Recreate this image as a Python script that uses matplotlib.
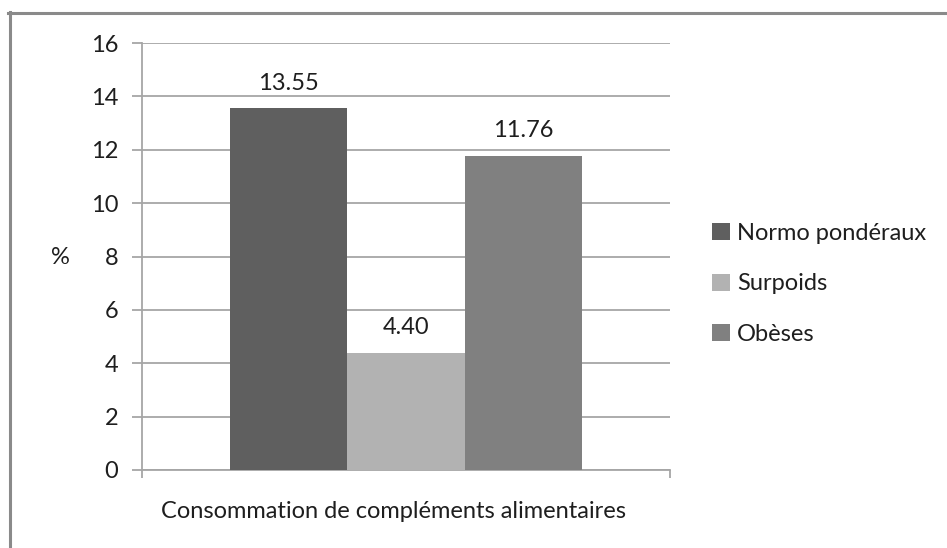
import matplotlib
matplotlib.use("Agg")
import matplotlib.pyplot as plt
from matplotlib.lines import Line2D
import numpy as np

plt.rcParams['font.family'] = ['Lato', 'DejaVu Sans']

# Data
category = "Consommation de compléments alimentaires"
groups = ["Normo pondéraux", "Surpoids", "Obèses"]
values = [13.55, 4.40, 11.76]
colors = ["#5f5f5f", "#b2b2b2", "#808080"]
yticks = [0, 2, 4, 6, 8, 10, 12, 14, 16]

W, H = 947, 548
fig = plt.figure(figsize=(W / 100, H / 100), dpi=100)
fig.patch.set_facecolor("white")

left, right, top, bottom = 142, 670, 43, 470
ax = fig.add_axes([left / W, 1 - bottom / H, (right - left) / W, (bottom - top) / H])

text_color = "#1e1e1e"
grid_color = "#a6a6a6"
fs = 17

# Clustered bars: three series within one category (gap width 150%)
bw = 1 / 4.5
offsets = (np.arange(len(values)) - 1) * bw
bars = []
for off, v, c, g in zip(offsets, values, colors, groups):
    b = ax.bar(off, v, width=bw, color=c, edgecolor="none", label=g, zorder=3)
    bars.append(b)
    ax.text(off, v + 0.55, f"{v:.2f}", ha="center", va="bottom",
            fontsize=fs, color=text_color)

ax.set_xlim(-0.5, 0.5)
ax.set_ylim(0, 16)
ax.set_yticks(yticks)
ax.set_yticklabels([str(t) for t in yticks], fontsize=fs, color=text_color)
ax.yaxis.grid(True, color=grid_color, linewidth=1.3, zorder=0)
ax.set_axisbelow(True)

ax.set_xticks([-0.5, 0.5])
ax.set_xticklabels(["", ""])
ax.tick_params(axis="x", length=6, width=1.3, color=grid_color, direction="out")
ax.tick_params(axis="y", length=7, width=1.3, color=grid_color, direction="out", pad=10)

for s in ["top", "right"]:
    ax.spines[s].set_visible(False)
for s in ["left", "bottom"]:
    ax.spines[s].set_color(grid_color)
    ax.spines[s].set_linewidth(1.3)

ax.text(0.5 - 13 / 528, -42 / 427, category, transform=ax.transAxes,
        ha="center", va="center", fontsize=fs, color=text_color)

fig.text(60 / W, 1 - 258 / H, "%", ha="center", va="center",
         fontsize=fs, color=text_color)

leg = fig.legend(handles=[b[0] for b in bars], labels=groups,
                 loc="center left", bbox_to_anchor=(691 / W, 1 - 284 / H),
                 frameon=False, fontsize=fs, handlelength=0.75, handleheight=0.75,
                 handletextpad=0.3, labelspacing=1.25, labelcolor=text_color)

# Outer frame, drawn on the top and left edges
fig.add_artist(Line2D([8 / W, 1], [1 - 13 / H, 1 - 13 / H], transform=fig.transFigure,
                      color="#8a8a8a", linewidth=2.2))
fig.add_artist(Line2D([9.5 / W, 9.5 / W], [0, 1 - 12 / H], transform=fig.transFigure,
                      color="#8a8a8a", linewidth=2.2))

fig.savefig("out.png", dpi=100, facecolor="white")
